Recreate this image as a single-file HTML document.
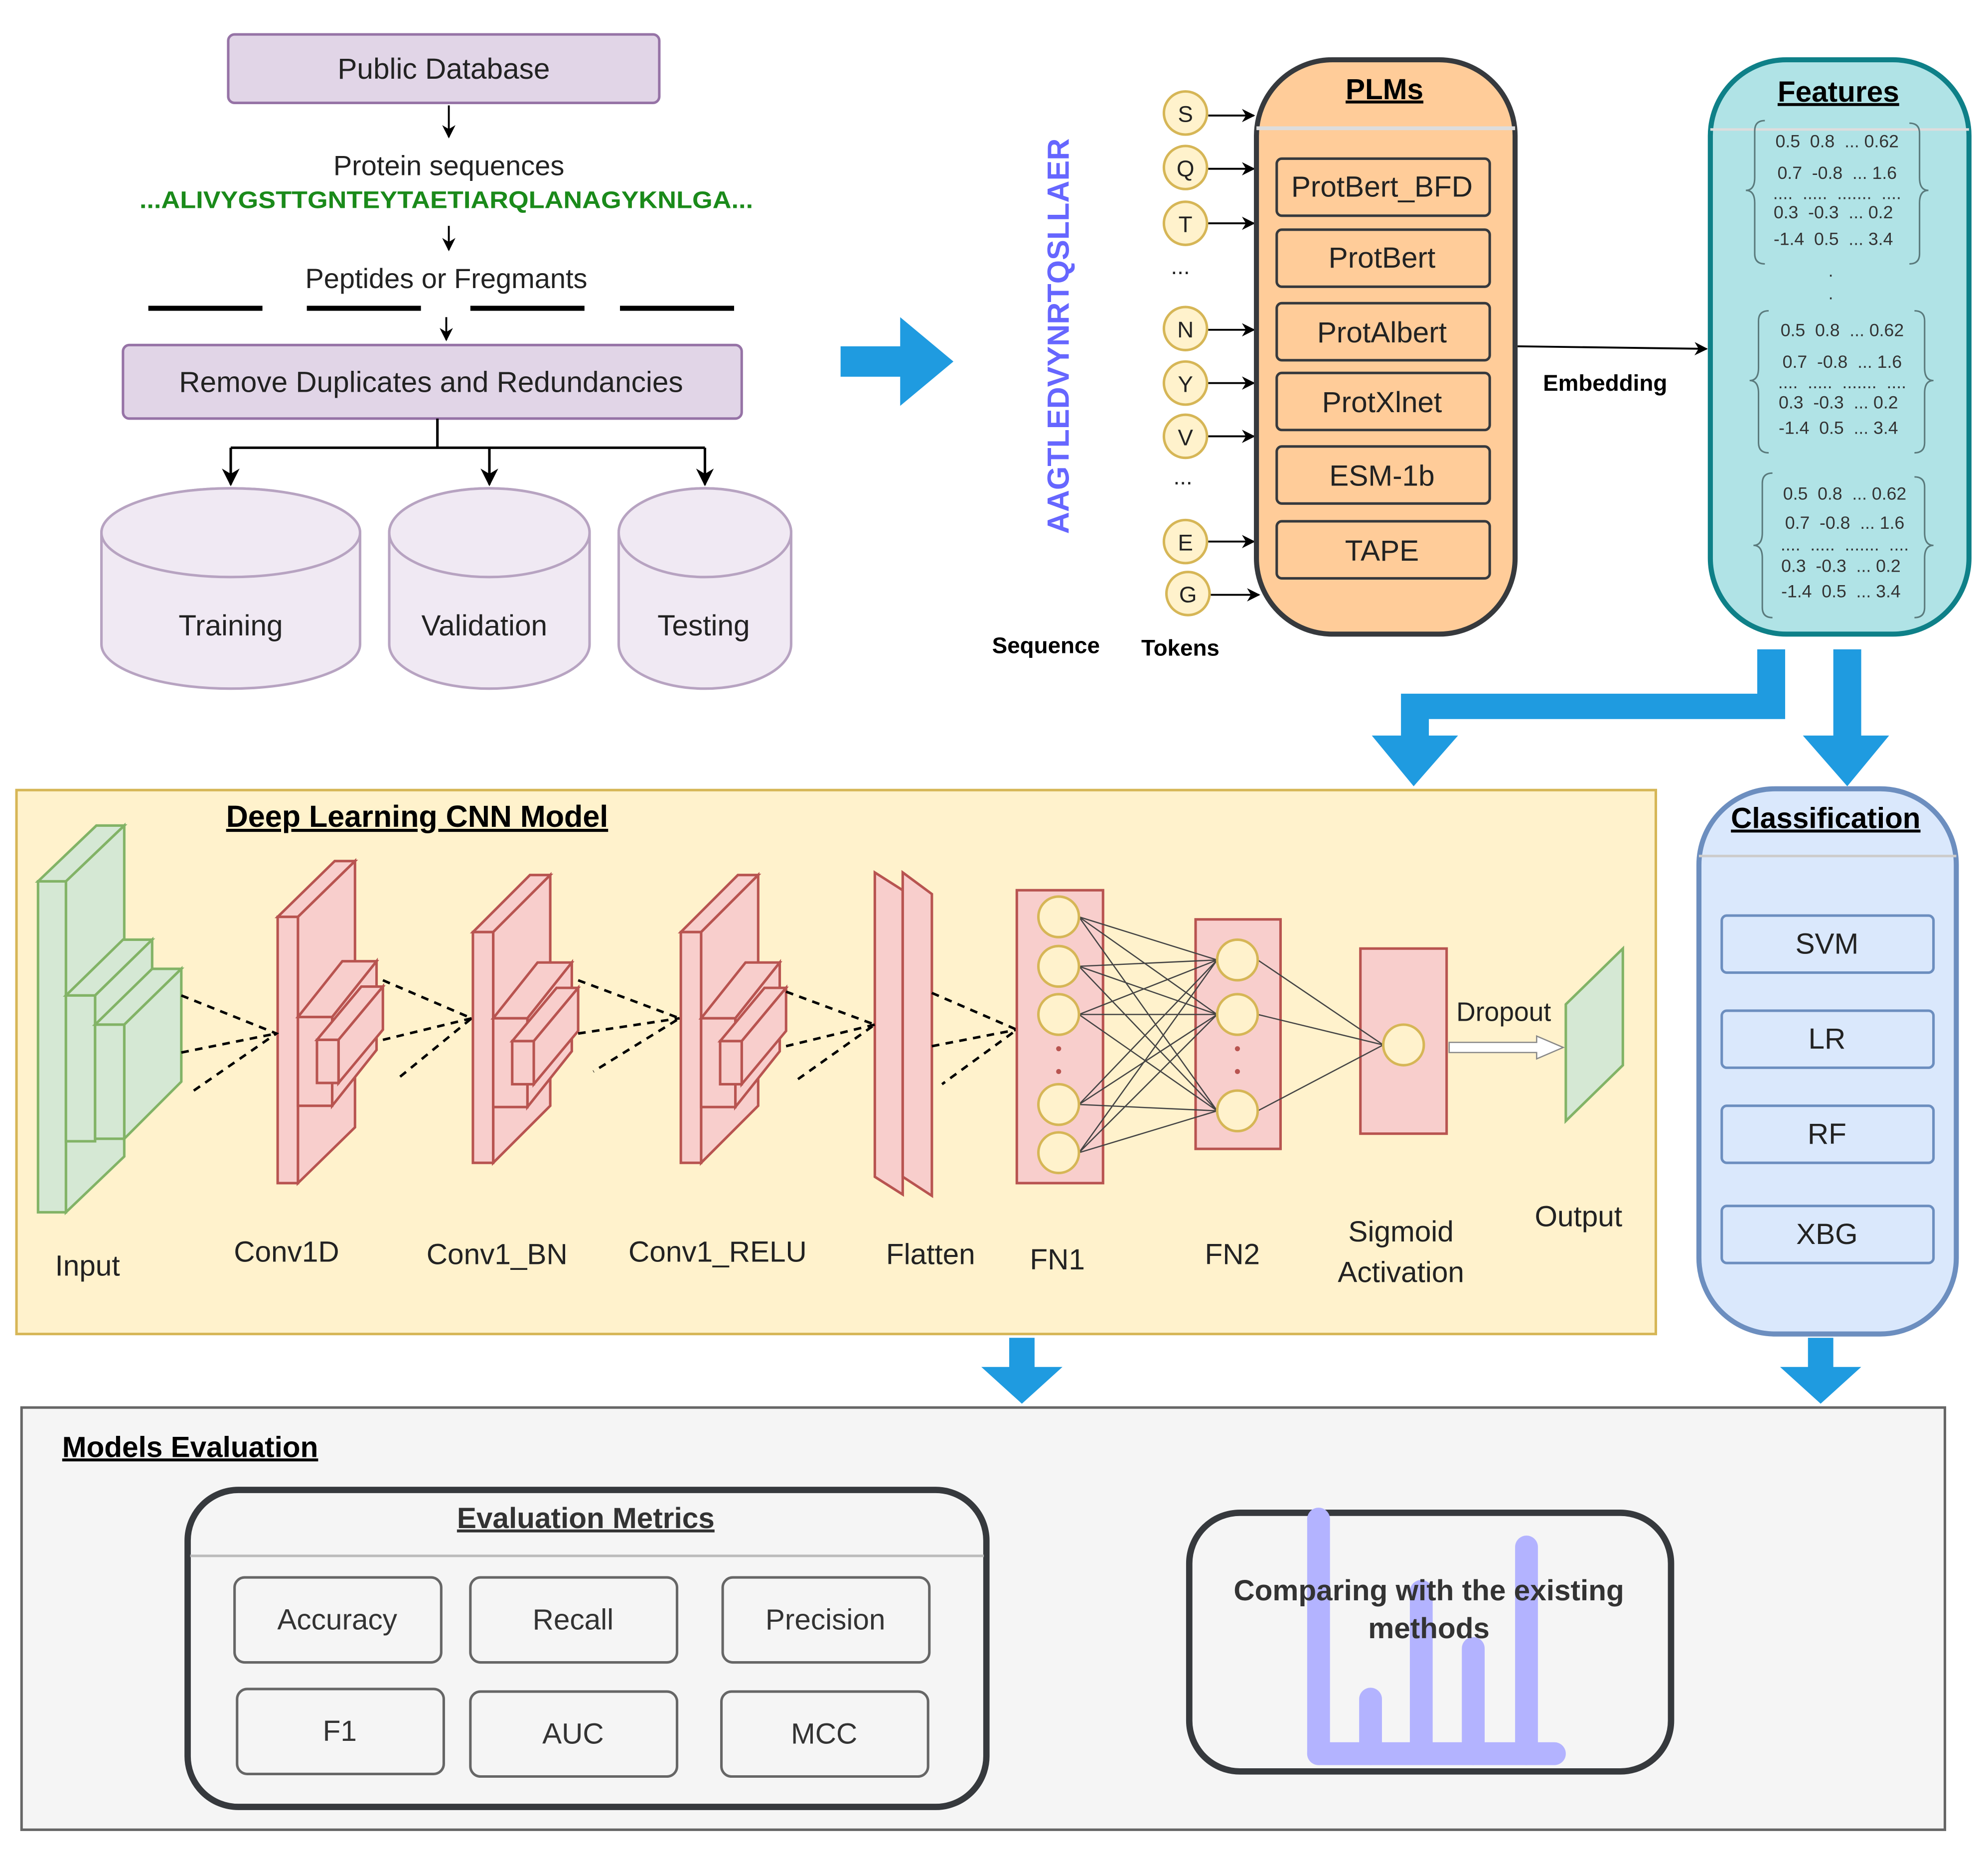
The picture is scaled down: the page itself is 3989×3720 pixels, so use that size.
<!DOCTYPE html>
<html><head><meta charset="utf-8"><style>html,body{margin:0;padding:0;background:#fff}svg{display:block}text{font-family:"Liberation Sans",sans-serif}.pre{white-space:pre}</style></head><body>
<svg width="3989" height="3720" viewBox="0 0 1568 1462" xmlns="http://www.w3.org/2000/svg">
<defs>
<marker id="ar" viewBox="0 0 10 10" refX="9" refY="5" markerWidth="7" markerHeight="7" orient="auto"><path d="M0,0 L10,5 L0,10 L3,5 z" fill="#000"/></marker>
</defs>
<rect width="1568" height="1462" fill="#fff"/>
<rect x="180" y="27" width="340" height="54" rx="5" fill="#e1d5e7" stroke="#9673a6" stroke-width="2"/>
<text x="350" y="62" font-size="23" text-anchor="middle" fill="#222">Public Database</text>
<line x1="354" y1="83" x2="354" y2="108" stroke="#000" stroke-width="1.5" marker-end="url(#ar)"/>
<text x="354" y="138" font-size="22" text-anchor="middle" fill="#222">Protein sequences</text>
<text x="110" y="164" font-size="19" font-weight="bold" fill="#1a8a1a" textLength="484" lengthAdjust="spacingAndGlyphs">...ALIVYGSTTGNTEYTAETIARQLANAGYKNLGA...</text>
<line x1="354" y1="178" x2="354" y2="197" stroke="#000" stroke-width="1.5" marker-end="url(#ar)"/>
<text x="352" y="227" font-size="22" text-anchor="middle" fill="#222">Peptides or Fregmants</text>
<g stroke="#000" stroke-width="4"><line x1="117" y1="243" x2="207" y2="243"/><line x1="242" y1="243" x2="332" y2="243"/><line x1="371" y1="243" x2="461" y2="243"/><line x1="489" y1="243" x2="579" y2="243"/></g>
<line x1="352" y1="250" x2="352" y2="268" stroke="#000" stroke-width="1.5" marker-end="url(#ar)"/>
<rect x="97" y="272" width="488" height="58" rx="5" fill="#e1d5e7" stroke="#9673a6" stroke-width="2"/>
<text x="340" y="309" font-size="23" text-anchor="middle" fill="#222">Remove Duplicates and Redundancies</text>
<g stroke="#000" stroke-width="2" fill="none"><path d="M345,330 V353 M182,353 H556"/>
<line x1="182" y1="353" x2="182" y2="382" marker-end="url(#ar)"/><line x1="386" y1="353" x2="386" y2="382" marker-end="url(#ar)"/><line x1="556" y1="353" x2="556" y2="382" marker-end="url(#ar)"/></g>
<g fill="#f0e9f3" stroke="#b7a3c1" stroke-width="2">
<path d="M80,420 A102,35 0 0 1 284,420 V508 A102,35 0 0 1 80,508 Z"/><ellipse cx="182" cy="420" rx="102" ry="35"/>
<path d="M307,420 A79,35 0 0 1 465,420 V508 A79,35 0 0 1 307,508 Z"/><ellipse cx="386" cy="420" rx="79" ry="35"/>
<path d="M488,420 A68,35 0 0 1 624,420 V508 A68,35 0 0 1 488,508 Z"/><ellipse cx="556" cy="420" rx="68" ry="35"/>
</g>
<g font-size="23" text-anchor="middle" fill="#222"><text x="182" y="501">Training</text><text x="382" y="501">Validation</text><text x="555" y="501">Testing</text></g>
<path d="M663,273 H710 V250 L752,285 L710,320 V297 H663 Z" fill="#1f9be0"/>
<text transform="translate(843,265) rotate(-90)" font-size="24" font-weight="bold" text-anchor="middle" fill="#6666ff">AAGTLEDVYNRTQSLLAER</text>
<text x="825" y="515" font-size="18" font-weight="bold" text-anchor="middle">Sequence</text>
<text x="931" y="517" font-size="18" font-weight="bold" text-anchor="middle">Tokens</text>
<g font-size="18" text-anchor="middle" fill="#222">
<g fill="#fff2cc" stroke="#d6b656" stroke-width="2">
<circle cx="935" cy="89" r="17"/><circle cx="935" cy="132" r="17"/><circle cx="935" cy="176" r="17"/><circle cx="935" cy="259" r="17"/><circle cx="935" cy="302" r="17"/><circle cx="935" cy="344" r="17"/><circle cx="935" cy="427" r="17"/><circle cx="937" cy="468" r="17"/></g>
<text x="935" y="96">S</text><text x="935" y="139">Q</text><text x="935" y="183">T</text><text x="931" y="216">...</text><text x="935" y="266">N</text><text x="935" y="309">Y</text><text x="935" y="351">V</text><text x="933" y="382">...</text><text x="935" y="434">E</text><text x="937" y="475">G</text>
</g>
<g stroke="#000" stroke-width="1.5"><line x1="953" y1="91" x2="989" y2="91" marker-end="url(#ar)"/><line x1="953" y1="133" x2="989" y2="133" marker-end="url(#ar)"/><line x1="953" y1="176" x2="989" y2="176" marker-end="url(#ar)"/><line x1="953" y1="260" x2="989" y2="260" marker-end="url(#ar)"/><line x1="953" y1="302" x2="989" y2="302" marker-end="url(#ar)"/><line x1="953" y1="344" x2="989" y2="344" marker-end="url(#ar)"/><line x1="953" y1="427" x2="989" y2="427" marker-end="url(#ar)"/><line x1="955" y1="469" x2="993" y2="469" marker-end="url(#ar)"/></g>
<rect x="991" y="47" width="204" height="453" rx="60" fill="#ffcc99" stroke="#36393d" stroke-width="4"/>
<line x1="991" y1="101" x2="1195" y2="101" stroke="#ddd" stroke-width="3"/>
<text x="1092" y="78" font-size="23" font-weight="bold" text-anchor="middle" text-decoration="underline">PLMs</text>
<g fill="#ffcc99" stroke="#36393d" stroke-width="2">
<rect x="1007" y="125" width="168" height="45" rx="4"/><rect x="1007" y="181" width="168" height="45" rx="4"/><rect x="1007" y="239" width="168" height="45" rx="4"/><rect x="1007" y="294" width="168" height="45" rx="4"/><rect x="1007" y="352" width="168" height="45" rx="4"/><rect x="1007" y="411" width="168" height="45" rx="4"/></g>
<g font-size="23" text-anchor="middle" fill="#222"><text x="1090" y="155">ProtBert_BFD</text><text x="1090" y="211">ProtBert</text><text x="1090" y="270">ProtAlbert</text><text x="1090" y="325">ProtXlnet</text><text x="1090" y="383">ESM-1b</text><text x="1090" y="442">TAPE</text></g>
<line x1="1197" y1="273" x2="1346" y2="275" stroke="#000" stroke-width="1.5" marker-end="url(#ar)"/>
<text x="1266" y="308" font-size="18" font-weight="bold" text-anchor="middle">Embedding</text>
<rect x="1349" y="47" width="204" height="453" rx="60" fill="#b0e3e6" stroke="#0e8088" stroke-width="4"/>
<line x1="1349" y1="102" x2="1553" y2="102" stroke="#ddd" stroke-width="2"/>
<text x="1450" y="80" font-size="23" font-weight="bold" text-anchor="middle" text-decoration="underline">Features</text>
<g font-size="14" fill="#333" text-anchor="middle" font-family="DejaVu Sans,sans-serif" class="pre">
<text class="pre" x="1449" y="116">0.5  0.8  ... 0.62</text><text class="pre" x="1449" y="141">0.7  -0.8  ... 1.6</text><text class="pre" x="1449" y="157">....  .....  .......  ....</text><text class="pre" x="1446" y="172">0.3  -0.3  ... 0.2</text><text class="pre" x="1446" y="193">-1.4  0.5  ... 3.4</text>
<text x="1444" y="218">.</text><text x="1444" y="236">.</text>
<text class="pre" x="1453" y="265">0.5  0.8  ... 0.62</text><text class="pre" x="1453" y="290">0.7  -0.8  ... 1.6</text><text class="pre" x="1453" y="306">....  .....  .......  ....</text><text class="pre" x="1450" y="322">0.3  -0.3  ... 0.2</text><text class="pre" x="1450" y="342">-1.4  0.5  ... 3.4</text>
<text class="pre" x="1455" y="394">0.5  0.8  ... 0.62</text><text class="pre" x="1455" y="417">0.7  -0.8  ... 1.6</text><text class="pre" x="1455" y="434">....  .....  .......  ....</text><text class="pre" x="1452" y="451">0.3  -0.3  ... 0.2</text><text class="pre" x="1452" y="471">-1.4  0.5  ... 3.4</text>
</g>
<g fill="none" stroke="#5a7a7c" stroke-width="1.2">
<path d="M1392,95 Q1384,95 1384,103 V140 Q1384,150 1377,150 Q1384,150 1384,160 V200 Q1384,208 1392,208"/><path d="M1506,97 Q1514,97 1514,105 V140 Q1514,150 1521,150 Q1514,150 1514,160 V200 Q1514,208 1506,208"/>
<path d="M1395,245 Q1387,245 1387,253 V290 Q1387,300 1380,300 Q1387,300 1387,310 V349 Q1387,357 1395,357"/><path d="M1510,245 Q1518,245 1518,253 V290 Q1518,300 1525,300 Q1518,300 1518,310 V349 Q1518,357 1510,357"/>
<path d="M1398,373 Q1390,373 1390,381 V420 Q1390,430 1383,430 Q1390,430 1390,440 V479 Q1390,487 1398,487"/><path d="M1510,376 Q1518,376 1518,384 V420 Q1518,430 1525,430 Q1518,430 1518,440 V479 Q1518,487 1510,487"/>
</g>
<path d="M1386,512 H1408 V567 H1127 V580 H1150 L1115,620 L1082,580 H1105 V547 H1386 Z" fill="#1f9be0"/>
<path d="M1446,512 H1468 V580 H1490 L1457,620 L1422,580 H1446 Z" fill="#1f9be0"/>
<rect x="13" y="623" width="1293" height="429" fill="#fff2cc" stroke="#d6b656" stroke-width="2"/>
<text x="329" y="652" font-size="24" font-weight="bold" text-anchor="middle" text-decoration="underline">Deep Learning CNN Model</text>
<g fill="#d5e8d4" stroke="#82b366" stroke-width="2">
<path d="M30,695 L76,651 H98 L52,695 Z"/><path d="M52,695 L98,651 V912 L52,956 Z"/><rect x="30" y="695" width="22" height="261"/>
<path d="M52,785 L97,741 H120 L75,785 Z"/><path d="M75,785 L120,741 V830 L75,875 Z"/><rect x="52" y="785" width="23" height="115"/>
<path d="M75,808 L120,764 H143 L98,808 Z"/><path d="M98,808 L143,764 V853 L98,898 Z"/><rect x="75" y="808" width="23" height="90"/>
</g>
<g fill="#f8cecc" stroke="#b85450" stroke-width="2">
<path d="M219,723 L264,679 H280 L235,723 Z"/><path d="M235,723 L280,679 V889 L235,933 Z"/><rect x="219" y="723" width="16" height="210"/>
<path d="M235,802 L270,758 H297 L262,802 Z"/><path d="M262,802 L297,758 V828 L262,872 Z"/><rect x="235" y="802" width="27" height="70"/>
<path d="M250,820 L285,778 H302 L267,820 Z"/><path d="M267,820 L302,778 V812 L267,854 Z"/><rect x="250" y="820" width="17" height="34"/>
<path d="M373,735 L418,690 H434 L389,735 Z"/><path d="M389,735 L434,690 V872 L389,917 Z"/><rect x="373" y="735" width="16" height="182"/>
<path d="M389,803 L424,759 H451 L416,803 Z"/><path d="M416,803 L451,759 V829 L416,873 Z"/><rect x="389" y="803" width="27" height="70"/>
<path d="M404,821 L439,779 H456 L421,821 Z"/><path d="M421,821 L456,779 V813 L421,855 Z"/><rect x="404" y="821" width="17" height="34"/>
<path d="M537,735 L582,690 H598 L553,735 Z"/><path d="M553,735 L598,690 V872 L553,917 Z"/><rect x="537" y="735" width="16" height="182"/>
<path d="M553,803 L588,759 H615 L580,803 Z"/><path d="M580,803 L615,759 V829 L580,873 Z"/><rect x="553" y="803" width="27" height="70"/>
<path d="M568,821 L603,779 H620 L585,821 Z"/><path d="M585,821 L620,779 V813 L585,855 Z"/><rect x="568" y="821" width="17" height="34"/>
<path d="M690,688 L712,702 V942 L690,928 Z"/><path d="M712,688 L735,705 V943 L712,928 Z"/>
</g>
<g stroke="#000" stroke-width="2" stroke-dasharray="6,5" fill="none">
<path d="M143,785 L218,815 L150,862 M143,830 L218,815"/>
<path d="M302,773 L372,803 L312,852 M302,820 L372,803"/>
<path d="M456,773 L536,803 L468,845 M456,815 L536,803"/>
<path d="M620,782 L690,808 L628,852 M620,825 L690,808"/>
<path d="M735,783 L802,812 L743,855 M735,825 L802,812"/>
</g>
<rect x="802" y="702" width="68" height="231" fill="#f8cecc" stroke="#b85450" stroke-width="2"/>
<rect x="943" y="725" width="67" height="181" fill="#f8cecc" stroke="#b85450" stroke-width="2"/>
<rect x="1073" y="748" width="68" height="146" fill="#f8cecc" stroke="#b85450" stroke-width="2"/>
<g stroke="#444" stroke-width="1">
<path d="M851,723 L960,757 M851,723 L960,800 M851,723 L960,876 M851,762 L960,757 M851,762 L960,800 M851,762 L960,876 M851,800 L960,757 M851,800 L960,800 M851,800 L960,876 M851,871 L960,757 M851,871 L960,800 M851,871 L960,876 M851,909 L960,757 M851,909 L960,800 M851,909 L960,876"/>
<path d="M992,757 L1091,824 M992,800 L1091,824 M992,876 L1091,824"/>
</g>
<g fill="#fff2cc" stroke="#d6b656" stroke-width="2">
<circle cx="835" cy="723" r="16"/><circle cx="835" cy="762" r="16"/><circle cx="835" cy="800" r="16"/><circle cx="835" cy="871" r="16"/><circle cx="835" cy="909" r="16"/>
<circle cx="976" cy="757" r="16"/><circle cx="976" cy="800" r="16"/><circle cx="976" cy="876" r="16"/><circle cx="1107" cy="824" r="16"/></g>
<g fill="#b85450"><circle cx="835" cy="827" r="2"/><circle cx="835" cy="845" r="2"/><circle cx="976" cy="827" r="2"/><circle cx="976" cy="845" r="2"/></g>
<path d="M1143,822 H1212 V817 L1233,826 L1212,835 V830 H1143 Z" fill="#fff" stroke="#888" stroke-width="1"/>
<text x="1186" y="805" font-size="21" text-anchor="middle" fill="#222">Dropout</text>
<path d="M1235,792 L1280,748 V840 L1235,884 Z" fill="#d5e8d4" stroke="#82b366" stroke-width="2"/>
<g font-size="23" text-anchor="middle" fill="#222">
<text x="69" y="1006">Input</text><text x="226" y="995">Conv1D</text><text x="392" y="997">Conv1_BN</text><text x="566" y="995">Conv1_RELU</text><text x="734" y="997">Flatten</text><text x="834" y="1001">FN1</text><text x="972" y="997">FN2</text><text x="1105" y="979">Sigmoid</text><text x="1105" y="1011">Activation</text><text x="1245" y="967">Output</text></g>
<rect x="1340" y="622" width="203" height="430" rx="60" fill="#dae8fc" stroke="#6c8ebf" stroke-width="4"/>
<line x1="1340" y1="675" x2="1543" y2="675" stroke="#ccc" stroke-width="2"/>
<text x="1440" y="653" font-size="23" font-weight="bold" text-anchor="middle" text-decoration="underline">Classification</text>
<g fill="#dae8fc" stroke="#6c8ebf" stroke-width="2">
<rect x="1358" y="722" width="167" height="45" rx="4"/><rect x="1358" y="797" width="167" height="45" rx="4"/><rect x="1358" y="872" width="167" height="45" rx="4"/><rect x="1358" y="951" width="167" height="45" rx="4"/></g>
<g font-size="23" text-anchor="middle" fill="#222"><text x="1441" y="752">SVM</text><text x="1441" y="827">LR</text><text x="1441" y="902">RF</text><text x="1441" y="981">XBG</text></g>
<path d="M796,1055 H816 V1078 H838 L806,1107 L774,1078 H796 Z" fill="#1f9be0"/>
<path d="M1426,1055 H1446 V1078 H1468 L1436,1107 L1404,1078 H1426 Z" fill="#1f9be0"/>
<rect x="17" y="1110" width="1517" height="333" fill="#f5f5f5" stroke="#666" stroke-width="2"/>
<text x="150" y="1149" font-size="23" font-weight="bold" text-anchor="middle" text-decoration="underline">Models Evaluation</text>
<rect x="148" y="1175" width="630" height="250" rx="40" fill="#f5f5f5" stroke="#36393d" stroke-width="5"/>
<line x1="150" y1="1227" x2="776" y2="1227" stroke="#bbb" stroke-width="2"/>
<text x="462" y="1205" font-size="23" font-weight="bold" text-anchor="middle" text-decoration="underline" fill="#333">Evaluation Metrics</text>
<g fill="#f5f5f5" stroke="#666" stroke-width="2">
<rect x="185" y="1244" width="163" height="67" rx="8"/><rect x="371" y="1244" width="163" height="67" rx="8"/><rect x="570" y="1244" width="163" height="67" rx="8"/>
<rect x="187" y="1332" width="163" height="67" rx="8"/><rect x="371" y="1334" width="163" height="67" rx="8"/><rect x="569" y="1334" width="163" height="67" rx="8"/></g>
<g font-size="23" text-anchor="middle" fill="#333"><text x="266" y="1285">Accuracy</text><text x="452" y="1285">Recall</text><text x="651" y="1285">Precision</text><text x="268" y="1373">F1</text><text x="452" y="1375">AUC</text><text x="650" y="1375">MCC</text></g>
<rect x="938" y="1193" width="380" height="204" rx="40" fill="#f5f5f5" stroke="#36393d" stroke-width="5"/>
<g stroke="#b3b3ff" stroke-width="18" stroke-linecap="round" fill="none">
<line x1="1040" y1="1198" x2="1040" y2="1383"/><line x1="1081" y1="1340" x2="1081" y2="1383"/><line x1="1121" y1="1255" x2="1121" y2="1383"/><line x1="1162" y1="1300" x2="1162" y2="1383"/><line x1="1204" y1="1220" x2="1204" y2="1383"/><line x1="1040" y1="1383" x2="1226" y2="1383"/></g>
<g font-size="23" font-weight="bold" text-anchor="middle" fill="#333"><text x="1127" y="1262">Comparing with the existing</text><text x="1127" y="1292">methods</text></g>
</svg>
</body></html>
